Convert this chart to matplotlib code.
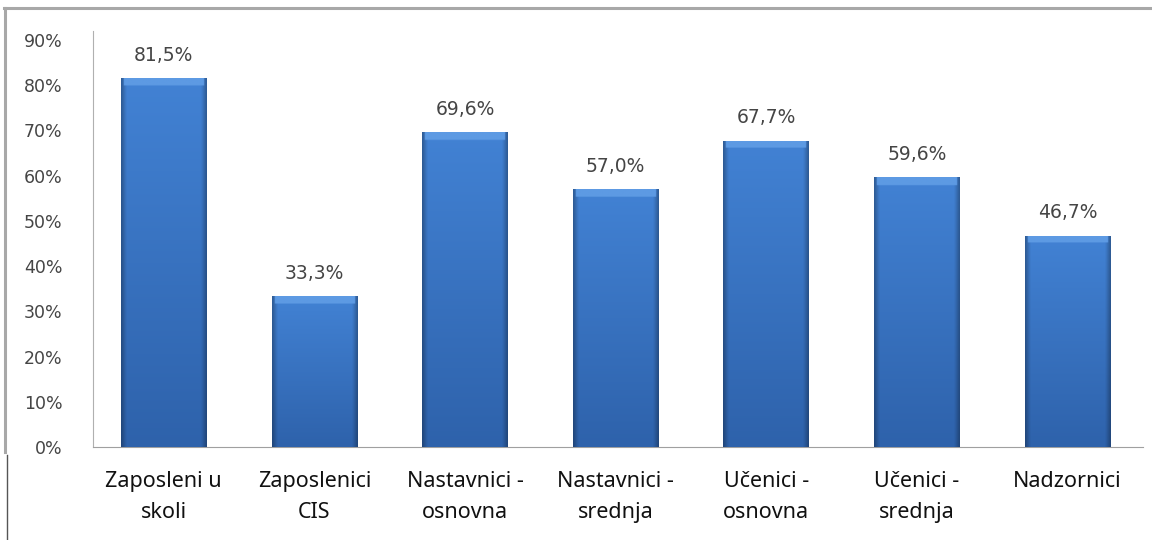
import numpy as np
import matplotlib.pyplot as plt
from matplotlib.colors import to_rgb
from matplotlib.lines import Line2D

categories = ["Zaposleni u\nskoli", "Zaposlenici\nCIS", "Nastavnici -\nosnovna",
              "Nastavnici -\nsrednja", "Učenici -\nosnovna", "Učenici -\nsrednja",
              "Nadzornici"]
values = [81.5, 33.3, 69.6, 57.0, 67.7, 59.6, 46.7]
value_labels = ["81,5%", "33,3%", "69,6%", "57,0%", "67,7%", "59,6%", "46,7%"]
yticks = [0, 10, 20, 30, 40, 50, 60, 70, 80, 90]
ytick_labels = ["0%", "10%", "20%", "30%", "40%", "50%", "60%", "70%", "80%", "90%"]

plt.rcParams['font.family'] = ['Noto Sans', 'DejaVu Sans']

fig = plt.figure(figsize=(11.52, 5.4), dpi=100)
fig.patch.set_facecolor('white')
ax = fig.add_axes([93 / 1152, 1 - 447 / 540, (1143 - 93) / 1152, (447 - 40) / 540])

x = np.arange(len(categories))
bars = ax.bar(x, values, width=0.57, color='#3a74c4', zorder=2)


def bar_image(h, ny=200, nx=60, cap_units=1.6):
    """Shaded fill for one bar: lighter top, darker bottom, dim edges, bright cap."""
    top = np.array(to_rgb('#4282d4'))
    bottom = np.array(to_rgb('#2e62ab'))
    t = np.linspace(0, 1, ny)[:, None, None]          # 0 = bottom, 1 = top
    img = bottom + (top - bottom) * t
    img = np.repeat(img, nx, axis=1)
    u = np.linspace(0, 1, nx)
    edge = np.clip(np.minimum(u, 1 - u) / 0.06, 0, 1)
    factor = 0.72 + 0.28 * edge
    img = img * factor[None, :, None]
    # bright bevel at the top
    ys = np.linspace(0, h, ny)
    cap = (ys > h - cap_units)[:, None] & (edge[None, :] > 0.5)
    capc = np.array(to_rgb('#5d9ae3'))
    img[cap] = capc
    return np.clip(img, 0, 1)


for i, b in enumerate(bars):
    x0, w, h = b.get_x(), b.get_width(), b.get_height()
    im = ax.imshow(bar_image(h), aspect='auto', extent=(x0, x0 + w, 0, h),
                   zorder=3, interpolation='bilinear', origin='lower')
    im.set_clip_path(b)
    ax.text(x0 + w / 2, h + 3.0, value_labels[i], ha='center', va='bottom',
            fontsize=13.5, color='#454545', family='DejaVu Sans', zorder=5)

ax.set_xlim(-0.47, len(categories) - 0.5)
ax.set_ylim(0, 90)
ax.set_yticks(yticks)
ax.set_yticklabels(ytick_labels, fontsize=12.5, color='#454545', family='DejaVu Sans')
ax.set_xticks(x)
ax.set_xticklabels(categories, fontsize=15.5, color='#111111', linespacing=1.65)
ax.tick_params(axis='y', length=0, pad=22)
ax.tick_params(axis='x', length=0, pad=17)

for s in ['top', 'right']:
    ax.spines[s].set_visible(False)
ax.spines['left'].set_color('#b0b0b0')
ax.spines['bottom'].set_color('#a0a0a0')
ax.spines['left'].set_bounds(0, 92)
ax.set_facecolor('white')


def px_line(xs, ys, color, lw):
    fig.add_artist(Line2D([v / 1152 for v in xs], [1 - v / 540 for v in ys],
                          color=color, lw=lw, transform=fig.transFigure))


# outer frame
px_line([4, 1152], [8, 8], '#a8a8a8', 2.2)
px_line([5, 5], [8, 452], '#a8a8a8', 2.2)
px_line([7, 7], [455, 540], '#555555', 1.0)

fig.savefig('out.png', dpi=100, facecolor='white')
